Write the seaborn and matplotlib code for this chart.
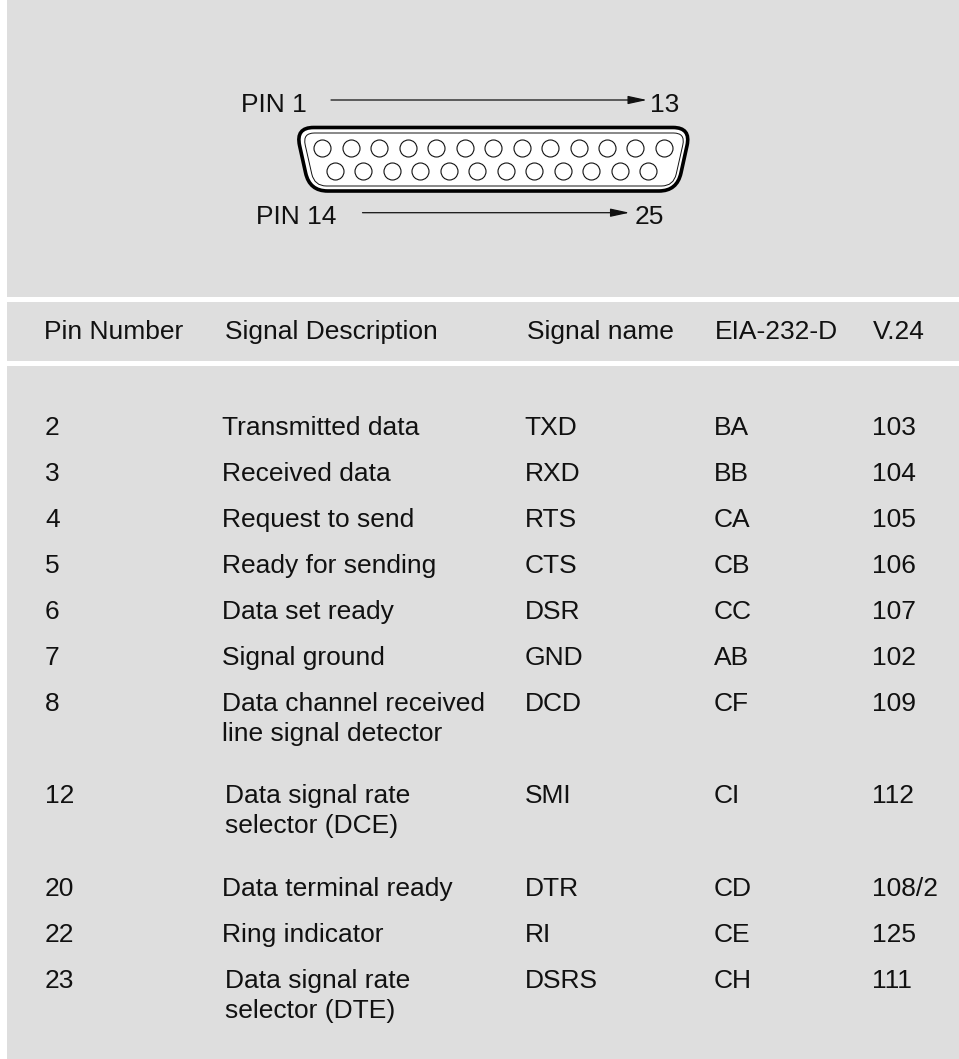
import matplotlib
matplotlib.use('Agg')
import matplotlib.pyplot as plt
from matplotlib.patches import PathPatch, Rectangle
from matplotlib.path import Path
import seaborn as sns
import pandas as pd

# 表格内容
header = ['Pin Number', 'Signal Description', 'Signal name', 'EIA-232-D', 'V.24']
pins = ['2', '3', '4', '5', '6', '7', '8', '12', '20', '22', '23']
descriptions = ['Transmitted data', 'Received data', 'Request to send', 'Ready for sending',
                'Data set ready', 'Signal ground', 'Data channel received\nline signal detector',
                'Data signal rate\nselector (DCE)', 'Data terminal ready', 'Ring indicator',
                'Data signal rate\nselector (DTE)']
names = ['TXD', 'RXD', 'RTS', 'CTS', 'DSR', 'GND', 'DCD', 'SMI', 'DTR', 'RI', 'DSRS']
eia = ['BA', 'BB', 'CA', 'CB', 'CC', 'AB', 'CF', 'CI', 'CD', 'CE', 'CH']
v24 = ['103', '104', '105', '106', '107', '102', '109', '112', '108/2', '125', '111']
top_row_pins = list(range(1, 14))
bottom_row_pins = list(range(14, 26))

GREY = '#dedede'
INK = '#111111'
FS = 19

sns.set_theme(style='white')
plt.rcParams['font.family'] = ['Liberation Sans', 'DejaVu Sans']

fig = plt.figure(figsize=(9.59, 10.59), dpi=100)
ax = fig.add_axes([0, 0, 1, 1])

# 三块灰色背景
for y0, y1 in [(0, 297), (302, 360.5), (366, 1059)]:
    ax.add_patch(Rectangle((7, y0), 952, y1 - y0, fc=GREY, ec='none', zorder=0))


def d_shape(left, right, top, bottom, slant, r):
    # D型外壳，四角用二次曲线
    tl, tr = (left, top), (right, top)
    br, bl = (right - slant, bottom), (left + slant, bottom)
    k = slant / (bottom - top)
    verts = [(left + r, top), (right - r, top), tr, (right - k * r, top + r),
             (br[0] + k * r, bottom - r), br, (right - slant - r, bottom),
             (left + slant + r, bottom), bl, (left + slant - k * r, bottom - r),
             (left + k * r, top + r), tl, (left + r, top), (left + r, top)]
    codes = [Path.MOVETO, Path.LINETO, Path.CURVE3, Path.CURVE3, Path.LINETO, Path.CURVE3, Path.CURVE3,
             Path.LINETO, Path.CURVE3, Path.CURVE3, Path.LINETO, Path.CURVE3, Path.CURVE3, Path.CLOSEPOLY]
    return Path(verts, codes)


ax.add_patch(PathPatch(d_shape(295.6, 691, 127.5, 191, 14, 18), fc='white', ec='black', lw=2.6, zorder=2))
ax.add_patch(PathPatch(d_shape(302.5, 685.5, 133, 186, 12, 12), fc='white', ec=INK, lw=0.7, zorder=3))

# 针脚
pin_df = pd.DataFrame({
    'x': [322.3 + 28.47 * (p - 1) for p in top_row_pins] + [335 + 28.48 * (p - 14) for p in bottom_row_pins],
    'y': [147.7] * len(top_row_pins) + [171] * len(bottom_row_pins),
})
sns.scatterplot(data=pin_df, x='x', y='y', ax=ax, s=150, facecolor='white', edgecolor=INK,
                linewidth=0.8, zorder=4, legend=False)
ax.set_xlim(0, 959)
ax.set_ylim(1059, 0)
ax.axis('off')


def label(x, y, s):
    ax.text(x, y, s, fontsize=FS, color=INK, va='baseline', ha='left', zorder=5)


# 箭头和标注
label(241, 112, 'PIN 1')
label(650.5, 112, '13')
label(256.5, 224.5, 'PIN 14')
label(634.5, 224.5, '25')
for x0, x1, y in [(331, 647, 100), (362.5, 629.5, 212.7)]:
    ax.annotate('', xy=(x1, y), xytext=(x0, y),
                arrowprops=dict(arrowstyle='-|>,head_length=1.15,head_width=0.25', color=INK, lw=0.9,
                                mutation_scale=10, shrinkA=0, shrinkB=0), zorder=5)

# 表头
for x, s in zip([44, 225, 527, 715, 873], header):
    label(x, 339.3, s)

# 表格
row_y = [435, 481, 527, 572.7, 618.7, 665, 711, 802.7, 895.7, 941.7, 987.7]
pin_x = [45] * 11
desc_x = [222, 222, 222, 222, 222, 222, 222, 225, 222, 222, 225]
for i, y in enumerate(row_y):
    label(pin_x[i], y, pins[i])
    lines = descriptions[i].split('\n')
    label(desc_x[i], y, lines[0])
    if len(lines) > 1:
        label(desc_x[i], y + 30, lines[1])
    label(524.5, y, names[i])
    label(714, y, eia[i])
    label(871.5, y, v24[i])

plt.savefig('out.png', dpi=100)
plt.close()
